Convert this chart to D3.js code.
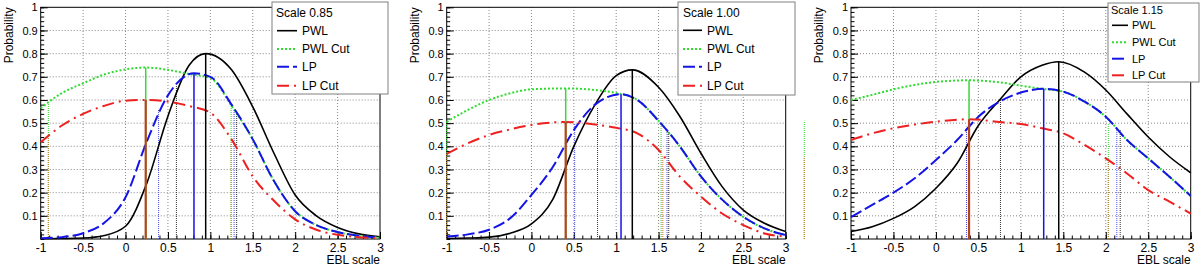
<!DOCTYPE html>
<html>
<head>
<meta charset="utf-8">
<script src="https://cdn.jsdelivr.net/npm/d3@7"></script>
<style>
  body { margin: 0; background: #fff; }
  svg { display: block; font-family: "Liberation Sans", Arial, Helvetica, sans-serif; }
  .frame { fill: none; stroke: #000; stroke-width: 1; }
  .grid line { stroke: #6a6a6a; stroke-width: 0.8; stroke-dasharray: 1,2; }
  .axis path { display: none; }
  .axis line { stroke: #000; }
  .axis text { fill: #000; }
  .legend-box { fill: #fff; stroke: #808080; stroke-width: 1; }
</style>
</head>
<body>
<div id="chart"></div>
<script>
  var titles = ['Scale 0.85', 'Scale 1.00', 'Scale 1.15'];
  var seriesNames = ['PWL', 'PWL Cut', 'LP', 'LP Cut'];
  var xTicks = [-1, -0.5, 0, 0.5, 1, 1.5, 2, 2.5, 3];
  var yTicks = [0.1, 0.2, 0.3, 0.4, 0.5, 0.6, 0.7, 0.8, 0.9, 1];

  // Scale 0.85  ([EBL scale, probability])
  var pwl085 = [[-1,0.001],[-0.75,0.002],[-0.5,0.004],[-0.25,0.015],[0,0.055],[0.25,0.24],[0.5,0.53],[0.75,0.75],[0.945,0.80],[1.25,0.73],[1.5,0.57],[1.75,0.37],[2,0.19],[2.25,0.10],[2.5,0.05],[2.75,0.022],[3,0.01]];
  var pwlCut085 = [[-1,0.565],[-0.75,0.63],[-0.5,0.672],[-0.25,0.71],[0,0.732],[0.238,0.74],[0.5,0.73],[0.75,0.712],[1,0.695],[1.25,0.575],[1.5,0.43],[1.75,0.25],[2,0.12],[2.25,0.06],[2.5,0.03],[2.75,0.014],[3,0.006]];
  var lp085 = [[-1,0.003],[-0.75,0.008],[-0.5,0.025],[-0.25,0.07],[0,0.18],[0.25,0.42],[0.5,0.62],[0.807,0.715],[1,0.70],[1.25,0.58],[1.5,0.43],[1.75,0.25],[2,0.12],[2.25,0.06],[2.5,0.03],[2.75,0.014],[3,0.006]];
  var lpCut085 = [[-1,0.417],[-0.75,0.49],[-0.5,0.54],[-0.25,0.575],[0,0.597],[0.238,0.60],[0.5,0.593],[0.75,0.574],[1,0.545],[1.25,0.43],[1.5,0.27],[1.75,0.165],[2,0.085],[2.25,0.04],[2.5,0.018],[2.75,0.008],[3,0.003]];
  var lower085 = [[0.60,0.66],[-0.91,0.586],[0.39,0.557],[-0.91,0.44]];
  var upper085 = [[1.31,0.55],[1.245,0.574],[1.28,0.56],[1.245,0.43]];

  // Scale 1.00
  var pwl100 = [[-1,0.002],[-0.75,0.004],[-0.5,0.008],[-0.25,0.025],[0,0.065],[0.25,0.17],[0.5,0.40],[0.75,0.58],[1,0.705],[1.19,0.73],[1.5,0.655],[1.75,0.53],[2,0.37],[2.25,0.226],[2.5,0.125],[2.75,0.068],[3,0.032]];
  var pwlCut100 = [[-1,0.506],[-0.75,0.557],[-0.5,0.60],[-0.25,0.629],[0,0.646],[0.404,0.65],[0.75,0.643],[1,0.63],[1.25,0.60],[1.5,0.51],[1.75,0.40],[2,0.27],[2.25,0.17],[2.5,0.095],[2.75,0.045],[3,0.017]];
  var lp100 = [[-1,0.01],[-0.75,0.02],[-0.5,0.04],[-0.25,0.09],[0,0.19],[0.25,0.31],[0.5,0.47],[0.75,0.58],[1.057,0.625],[1.25,0.60],[1.5,0.51],[1.75,0.40],[2,0.27],[2.25,0.17],[2.5,0.096],[2.75,0.046],[3,0.017]];
  var lpCut100 = [[-1,0.367],[-0.75,0.413],[-0.5,0.449],[-0.25,0.473],[0,0.492],[0.404,0.505],[0.75,0.494],[1,0.48],[1.25,0.456],[1.5,0.384],[1.75,0.27],[2,0.183],[2.25,0.11],[2.5,0.06],[2.75,0.024],[3,0.01]];
  var lower100 = [[0.78,0.57],[-1,0.506],[0.51,0.50],[-1,0.367]];
  var upper100 = [[1.62,0.465],[1.53,0.50],[1.60,0.47],[1.55,0.363]];

  // Scale 1.15
  var pwl115 = [[-1,0.032],[-0.75,0.053],[-0.5,0.089],[-0.25,0.14],[0,0.219],[0.25,0.327],[0.5,0.49],[0.75,0.60],[1,0.70],[1.25,0.75],[1.446,0.765],[1.75,0.72],[2,0.643],[2.25,0.54],[2.5,0.44],[2.75,0.355],[3,0.286]];
  var pwlCut115 = [[-1,0.60],[-0.75,0.622],[-0.5,0.646],[-0.25,0.665],[0,0.678],[0.39,0.685],[0.75,0.676],[1,0.662],[1.25,0.648],[1.5,0.636],[1.75,0.593],[2,0.528],[2.25,0.427],[2.5,0.348],[2.75,0.269],[3,0.186]];
  var lp115 = [[-1,0.094],[-0.75,0.147],[-0.5,0.20],[-0.25,0.262],[0,0.341],[0.25,0.427],[0.5,0.528],[0.75,0.593],[1,0.632],[1.269,0.648],[1.5,0.636],[1.75,0.593],[2,0.528],[2.25,0.427],[2.5,0.348],[2.75,0.269],[3,0.186]];
  var lpCut115 = [[-1,0.427],[-0.75,0.456],[-0.5,0.478],[-0.25,0.494],[0,0.506],[0.39,0.517],[0.75,0.505],[1,0.496],[1.25,0.478],[1.5,0.456],[1.75,0.406],[2,0.348],[2.25,0.283],[2.5,0.211],[2.75,0.161],[3,0.11]];
  var lower115 = [[0.76,0.60],[-1.55,0.51],[0.36,0.485],[-1.55,0.355]];
  var upper115 = [[2.17,0.47],[2.03,0.50],[2.13,0.478],[2.03,0.334]];


  var styles = [
    { color: '#000000', width: 1.6, dash: null,       mode: '#000000', modeWidth: 1.5, dot: '#333333' },
    { color: '#2fdc2f', width: 2,   dash: '2,2',      mode: '#3cd43c', modeWidth: 1.5, dot: '#2fdc2f' },
    { color: '#1414e6', width: 2,   dash: '12,4',     mode: '#1414e6', modeWidth: 1.5, dot: '#4a4ae8' },
    { color: '#ee2020', width: 2,   dash: '12,5,2,5', mode: '#b5441c', modeWidth: 2.2, dot: '#c8782d' }
  ];

  var panels = [
    { title: titles[0], series: [pwl085, pwlCut085, lp085, lpCut085], lower: lower085, upper: upper085 },
    { title: titles[1], series: [pwl100, pwlCut100, lp100, lpCut100], lower: lower100, upper: upper100 },
    { title: titles[2], series: [pwl115, pwlCut115, lp115, lpCut115], lower: lower115, upper: upper115 }
  ];

  var settings = [
    { left: 40.7, right: 380, legend: { x: 272, y: 2, w: 116, h: 92, font: 12, titleX: 276, titleY: 12.5,
        rows: [30.7, 49, 66.7, 85.7], line0: 277, line1: 297, textX: 302 } },
    { left: 446.7, right: 785.7, legend: { x: 678, y: 2, w: 117, h: 93, font: 12, titleX: 683, titleY: 12.5,
        rows: [30.3, 49, 66.7, 85.7], line0: 683, line1: 702, textX: 707 } },
    { left: 851, right: 1190.7, legend: { x: 1108, y: 3, w: 91, h: 79, font: 11, titleX: 1111, titleY: 10.3,
        rows: [25.3, 42.3, 58.7, 75.3], line0: 1112, line1: 1128, textX: 1132 } }
  ];

  var plotTop = 7.3,
    plotBottom = 239;

  var svg = d3.select('#chart')
    .append('svg')
    .attr('width', 1200)
    .attr('height', 267);

  panels.forEach( function( panel, i ) { drawPanel( panel, settings[i] ); });


  function drawPanel( panel, s ) {
    var x = d3.scaleLinear().domain([-1, 3]).range([s.left, s.right]),
      y = d3.scaleLinear().domain([0, 1]).range([plotBottom, plotTop]),
      g = svg.append('g');

    // grid
    var grid = g.append('g').classed('grid', true);
    grid.selectAll('.gx')
      .data( xTicks.slice(1, -1) )
      .enter()
      .append('line')
      .attr('x1', x ).attr('x2', x )
      .attr('y1', y(0) ).attr('y2', y(1) );
    grid.selectAll('.gy')
      .data( yTicks.slice(0, -1) )
      .enter()
      .append('line')
      .attr('x1', x(-1) ).attr('x2', x(3) )
      .attr('y1', y ).attr('y2', y );

    // axes (ticks inside the frame, like ROOT)
    g.append('g')
      .classed('axis', true)
      .attr('transform', 'translate(0,' + plotBottom + ')')
      .call( d3.axisBottom( x ).tickValues( d3.range(-1, 3.001, 0.1) ).tickSize(-3.5).tickFormat('') );
    g.append('g')
      .classed('axis', true)
      .attr('transform', 'translate(0,' + plotBottom + ')')
      .style('font-size', '12px')
      .call( d3.axisBottom( x ).tickValues( xTicks ).tickSize(-7).tickPadding(4)
        .tickFormat( function( d ) { return String( d ); }) );
    g.append('g')
      .classed('axis', true)
      .attr('transform', 'translate(' + s.left + ',0)')
      .call( d3.axisLeft( y ).tickValues( d3.range(0, 1.001, 0.02) ).tickSize(-3.5).tickFormat('') );
    g.append('g')
      .classed('axis', true)
      .attr('transform', 'translate(' + s.left + ',0)')
      .style('font-size', '11px')
      .call( d3.axisLeft( y ).tickValues( yTicks ).tickSize(-7).tickPadding(3)
        .tickFormat( function( d ) { return String( d ); }) );
    g.selectAll('.axis').attr('font-family', null).attr('font-size', null);

    g.append('rect')
      .classed('frame', true)
      .attr('x', x(-1) )
      .attr('y', y(1) )
      .attr('width', x(3) - x(-1) )
      .attr('height', y(0) - y(1) );

    // credible interval bounds (dotted)
    var bounds = [];
    panel.lower.forEach( function( d, k ) { bounds.push({ x: d[0], top: d[1], k: k }); });
    panel.upper.forEach( function( d, k ) { bounds.push({ x: d[0], top: d[1], k: k }); });
    g.selectAll('.bound')
      .data( bounds )
      .enter()
      .append('line')
      .attr('x1', function( d ) { return x( d.x ); })
      .attr('x2', function( d ) { return x( d.x ); })
      .attr('y1', y(0) )
      .attr('y2', function( d ) { return y( d.top ); })
      .style('stroke', function( d ) { return styles[d.k].dot; })
      .style('stroke-width', 1)
      .style('stroke-dasharray', '1,1');

    // curves
    var line = d3.line()
      .x( function( d ) { return x( d[0] ); })
      .y( function( d ) { return y( d[1] ); })
      .curve( d3.curveMonotoneX );

    g.selectAll('.curve')
      .data( panel.series )
      .enter()
      .append('path')
      .attr('d', line )
      .style('fill', 'none')
      .style('stroke', function( d, k ) { return styles[k].color; })
      .style('stroke-width', function( d, k ) { return styles[k].width; })
      .style('stroke-dasharray', function( d, k ) { return styles[k].dash; });

    // most probable value (solid vertical)
    g.selectAll('.mode')
      .data( panel.series )
      .enter()
      .append('line')
      .each( function( d, k ) {
        var peak = d.reduce( function( a, b ) { return b[1] > a[1] ? b : a; });
        d3.select( this )
          .attr('x1', x( peak[0] ) ).attr('x2', x( peak[0] ) )
          .attr('y1', y(0) ).attr('y2', y( peak[1] ) )
          .style('stroke', styles[k].mode )
          .style('stroke-width', styles[k].modeWidth );
      });

    // axis titles
    g.append('text')
      .attr('x', x(3) )
      .attr('y', 264 )
      .attr('text-anchor', 'end')
      .style('font-size', '12px')
      .text('EBL scale');
    g.append('text')
      .attr('transform', 'translate(' + ( s.left - 28 ) + ',' + plotTop + ') rotate(-90)')
      .attr('text-anchor', 'end')
      .style('font-size', '12px')
      .text('Probability');

    drawLegend( g, panel, s.legend );
  }


  function drawLegend( g, panel, L ) {
    var leg = g.append('g').style('font-size', L.font + 'px');

    leg.append('rect')
      .classed('legend-box', true)
      .attr('x', L.x ).attr('y', L.y )
      .attr('width', L.w ).attr('height', L.h );

    leg.append('text')
      .attr('x', L.titleX )
      .attr('y', L.titleY + L.font * 0.36 )
      .text( panel.title );

    var rows = leg.selectAll('.entry')
      .data( seriesNames )
      .enter()
      .append('g')
      .attr('transform', function( d, k ) { return 'translate(0,' + L.rows[k] + ')'; });

    rows.append('line')
      .attr('x1', L.line0 ).attr('x2', L.line1 )
      .style('stroke', function( d, k ) { return styles[k].color; })
      .style('stroke-width', function( d, k ) { return styles[k].width; })
      .style('stroke-dasharray', function( d, k ) { return styles[k].dash; });

    rows.append('text')
      .attr('x', L.textX )
      .attr('y', L.font * 0.36 )
      .text( function( d ) { return d; });
  }
</script>
</body>
</html>
